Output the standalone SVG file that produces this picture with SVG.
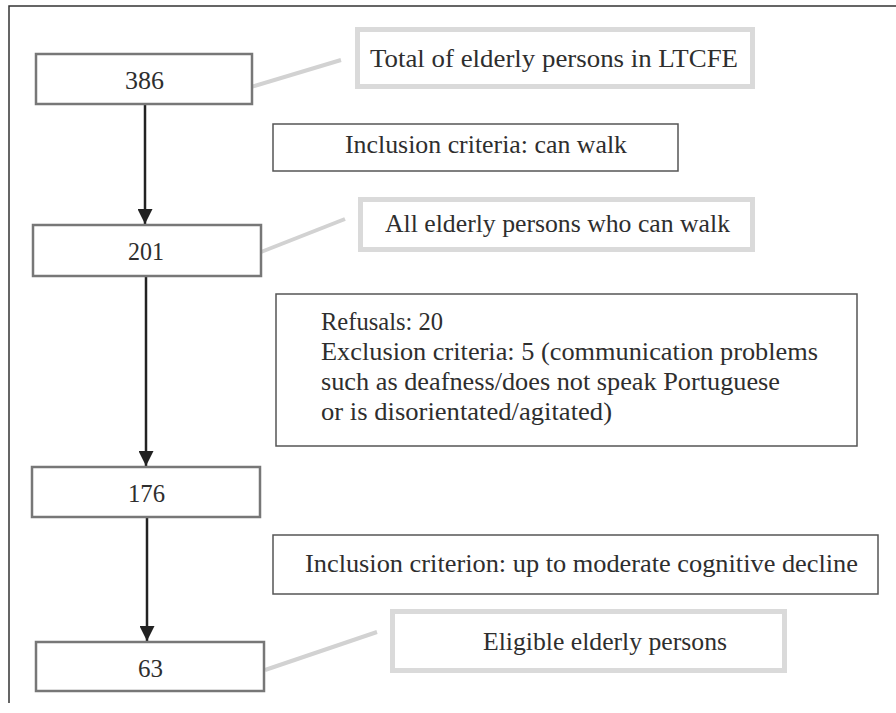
<svg xmlns="http://www.w3.org/2000/svg" width="896" height="713" viewBox="0 0 896 713">
<defs>
<style>
text{font-family:'Liberation Serif','DejaVu Serif',serif;font-size:25px;fill:#2e2e2e;}
.c{text-anchor:middle;}
.node rect{fill:#fff;stroke:#777;stroke-width:2.5;}
.crit rect{fill:#fff;stroke:#555;stroke-width:1.5;}
.call rect{fill:#fff;stroke:#dadada;stroke-width:5;}
.flow{stroke:#222;stroke-width:2.5;fill:none;}
.lead{stroke:#d2d2d2;stroke-width:4;fill:none;}
.frame{stroke:#333;stroke-width:1.5;fill:none;}
</style>
<marker id="ah" viewBox="0 0 10 10" refX="10" refY="5" markerWidth="6" markerHeight="6" markerUnits="strokeWidth" orient="auto">
<path d="M0,0 L10,5 L0,10 Z" fill="#222"/>
</marker>
</defs>
<rect width="896" height="713" fill="#fff"/>
<path class="frame" d="M9,703 L9,6 L896,6"/>

<g id="connectors">
<line class="flow" x1="145" y1="104" x2="145" y2="224" marker-end="url(#ah)"/>
<line class="flow" x1="146" y1="276" x2="146" y2="466" marker-end="url(#ah)"/>
<line class="flow" x1="147" y1="517" x2="147" y2="641" marker-end="url(#ah)"/>
<line class="lead" x1="251" y1="87" x2="341" y2="60"/>
<line class="lead" x1="261" y1="252" x2="345" y2="219"/>
<line class="lead" x1="265" y1="670" x2="377" y2="632"/>
</g>

<g id="n386" class="node"><rect x="36" y="54" width="216" height="50"/><text class="c" x="144.5" y="89" textLength="39" lengthAdjust="spacingAndGlyphs">386</text></g>
<g id="c_total" class="call"><rect x="357.5" y="29.5" width="395" height="57"/><text class="c" x="554" y="67" textLength="368" lengthAdjust="spacingAndGlyphs">Total of  elderly persons in LTCFE</text></g>
<g id="crit_walk" class="crit"><rect x="273" y="124" width="405" height="47"/><text class="c" x="486" y="153" textLength="282" lengthAdjust="spacingAndGlyphs">Inclusion criteria: can walk</text></g>

<g id="n201" class="node"><rect x="33" y="225" width="228" height="51"/><text class="c" x="146" y="260" textLength="36" lengthAdjust="spacingAndGlyphs">201</text></g>
<g id="c_walk" class="call"><rect x="360.5" y="199.5" width="392" height="50"/><text class="c" x="557.5" y="232" textLength="345" lengthAdjust="spacingAndGlyphs">All elderly persons who can walk</text></g>

<g id="crit_excl" class="crit"><rect x="276" y="294" width="581" height="152"/>
<text x="321" y="330" textLength="122" lengthAdjust="spacingAndGlyphs">Refusals: 20</text>
<text x="321" y="360" textLength="497" lengthAdjust="spacingAndGlyphs">Exclusion criteria: 5 (communication problems</text>
<text x="321" y="390" textLength="459" lengthAdjust="spacingAndGlyphs">such as deafness/does not speak Portuguese</text>
<text x="321" y="420" textLength="291" lengthAdjust="spacingAndGlyphs">or is disorientated/agitated)</text>
</g>

<g id="n176" class="node"><rect x="32" y="467" width="228" height="50"/><text class="c" x="146.5" y="502" textLength="37" lengthAdjust="spacingAndGlyphs">176</text></g>
<g id="crit_cog" class="crit"><rect x="273" y="535" width="605" height="59"/><text class="c" x="581.5" y="572" textLength="553" lengthAdjust="spacingAndGlyphs">Inclusion criterion: up to moderate cognitive decline</text></g>

<g id="n63" class="node"><rect x="36" y="642" width="228" height="49"/><text class="c" x="150.5" y="677" textLength="25" lengthAdjust="spacingAndGlyphs">63</text></g>
<g id="c_elig" class="call"><rect x="392.5" y="611.5" width="392" height="59"/><text class="c" x="605" y="650" textLength="244" lengthAdjust="spacingAndGlyphs">Eligible elderly persons</text></g>
</svg>
